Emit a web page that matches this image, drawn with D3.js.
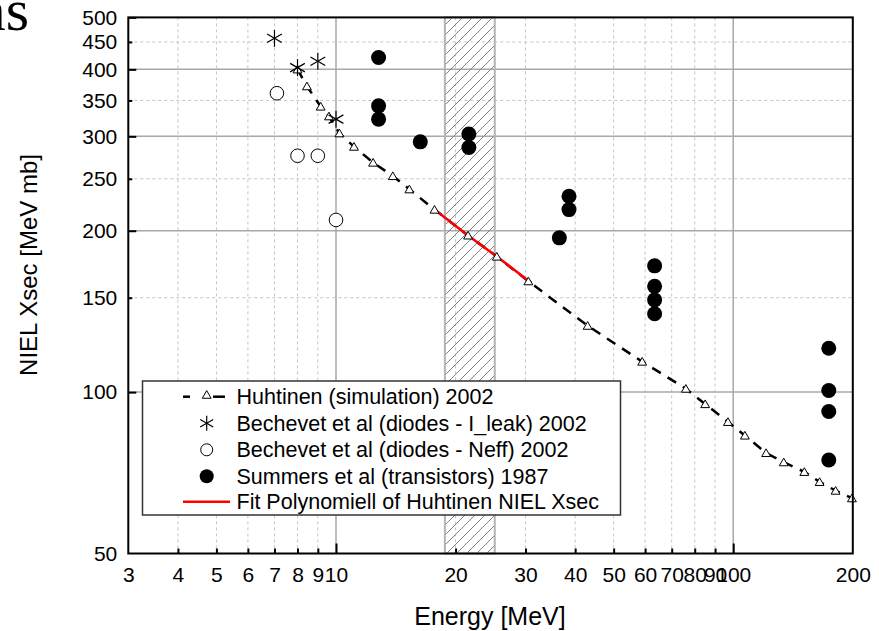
<!DOCTYPE html>
<html>
<head>
<meta charset="utf-8">
<script src="https://cdn.jsdelivr.net/npm/d3@7"></script>
<style>
  html, body { margin: 0; padding: 0; background: #fff; }
  svg { display: block; }
  text { font-family: "Liberation Sans", Arial, sans-serif; fill: #000; }
</style>
</head>
<body>
<svg id="chart" width="879" height="631"></svg>
<script>
// ---------- data ----------
const xTicks = [3, 4, 5, 6, 7, 8, 9, 10, 20, 30, 40, 50, 60, 70, 80, 90, 100, 200];
const xMajor = [10, 100];
const yTicks = [50, 100, 150, 200, 250, 300, 350, 400, 450, 500];
const yMajor = [100, 200, 300, 400, 500];

const simE = [8, 8.45, 9.15, 9.6, 10.2, 11.1, 12.4, 13.9, 15.3, 17.7, 21.5, 25.4, 30.5, 43, 59, 76, 85, 97, 107, 121, 134, 151, 165, 181, 199];
const simV = [400, 372, 341, 327, 304, 287, 268, 253, 239, 219, 196, 179, 161, 133, 114, 101.5, 95, 88, 83, 77, 74, 71, 68, 65.5, 63.4];

const fitE = [17.7, 21.5, 25.4, 31];
const fitV = [219, 196, 179, 160];

const leakE = [7, 8, 9, 10];
const leakV = [457, 403, 414, 323];

const neffE = [7.1, 8, 9, 10];
const neffV = [361, 276, 276, 209.5];

const sumE = [12.8, 12.8, 12.8, 16.3, 21.6, 21.6, 36.5, 38.6, 38.6, 63.4, 63.4, 63.4, 63.4, 174, 174, 174, 174];
const sumV = [421, 342, 323, 293, 303, 286, 194, 232, 219, 172, 157.5, 148.6, 140, 120.7, 100.7, 92, 74.7];

const bandE = [18.8, 25.1];

const legendLabels = [
  "Huhtinen (simulation) 2002",
  "Bechevet et al (diodes - I_leak) 2002",
  "Bechevet et al (diodes - Neff) 2002",
  "Summers et al (transistors) 1987",
  "Fit Polynomiell of Huhtinen NIEL Xsec"
];

// ---------- layout ----------
const L = 128.3, R = 852.8, T = 17.4, B = 553.5;
const svg = d3.select("#chart");

const x = d3.scaleLog().domain([3, 200]).range([L, R]);
const y = d3.scaleLog().domain([50, 500]).range([B, T]);

// cropped fragment of a title at top-left
svg.append("text").attr("x", 29).attr("y", 30)
  .attr("text-anchor", "end")
  .style("font-family", "'Liberation Serif', 'Times New Roman', serif")
  .style("font-size", "60px").text("ns");

// hatch pattern
const defs = svg.append("defs");
const pat = defs.append("pattern").attr("id", "hatch")
  .attr("patternUnits", "userSpaceOnUse").attr("width", 10).attr("height", 10);
pat.append("path").attr("d", "M0,10 L10,0 M-2,2 L2,-2 M8,12 L12,8")
  .attr("stroke", "#808080").attr("stroke-width", 1);

const plot = svg.append("g");

// gridlines
const minorX = xTicks.filter(d => !xMajor.includes(d) && d !== 3 && d !== 200);
const minorY = yTicks.filter(d => !yMajor.includes(d) && d !== 50);
plot.selectAll(".gxm").data(minorX).join("line")
  .attr("x1", d => x(d)).attr("x2", d => x(d)).attr("y1", T).attr("y2", B)
  .attr("stroke", "#c4c4c4").attr("stroke-width", 1).attr("stroke-dasharray", "3,3");
plot.selectAll(".gym").data(minorY).join("line")
  .attr("x1", L).attr("x2", R).attr("y1", d => y(d)).attr("y2", d => y(d))
  .attr("stroke", "#c4c4c4").attr("stroke-width", 1).attr("stroke-dasharray", "3,3");
plot.selectAll(".gxM").data(xMajor).join("line")
  .attr("x1", d => x(d)).attr("x2", d => x(d)).attr("y1", T).attr("y2", B)
  .attr("stroke", "#a8a8a8").attr("stroke-width", 1.5);
plot.selectAll(".gyM").data(yMajor.filter(d => d !== 500)).join("line")
  .attr("x1", L).attr("x2", R).attr("y1", d => y(d)).attr("y2", d => y(d))
  .attr("stroke", "#a8a8a8").attr("stroke-width", 1.5);

// hatched band
plot.append("rect")
  .attr("x", x(bandE[0])).attr("y", T)
  .attr("width", x(bandE[1]) - x(bandE[0])).attr("height", B - T)
  .attr("fill", "url(#hatch)").attr("stroke", "#b4b4b4").attr("stroke-width", 2);

// simulation dashed line
const lineGen = d3.line().x(d => x(d[0])).y(d => y(d[1]));
const sim = simE.map((e, i) => [e, simV[i]]);
plot.append("path").attr("d", lineGen(sim))
  .attr("fill", "none").attr("stroke", "#000").attr("stroke-width", 2.5)
  .attr("stroke-dasharray", "10,8");

// fit line
const fit = fitE.map((e, i) => [e, fitV[i]]);
plot.append("path").attr("d", lineGen(fit))
  .attr("fill", "none").attr("stroke", "#ff0000").attr("stroke-width", 2.5);

// triangles
const tri = d3.symbol().type(d3.symbolTriangle).size(34);
plot.selectAll(".tri").data(sim).join("path")
  .attr("transform", d => `translate(${x(d[0])},${y(d[1]) + 1})`)
  .attr("d", tri()).attr("fill", "#fff").attr("stroke", "#000").attr("stroke-width", 1);

// asterisk symbol
function star(g, cx, cy, r) {
  const angles = [90, 30, -30];
  angles.forEach(a => {
    const rad = a * Math.PI / 180;
    g.append("line")
      .attr("x1", cx - r * Math.cos(rad)).attr("y1", cy - r * Math.sin(rad))
      .attr("x2", cx + r * Math.cos(rad)).attr("y2", cy + r * Math.sin(rad))
      .attr("stroke", "#000").attr("stroke-width", 1.2);
  });
}
leakE.forEach((e, i) => star(plot, x(e), y(leakV[i]), 8.5));

// open circles
plot.selectAll(".neff").data(neffE.map((e, i) => [e, neffV[i]])).join("circle")
  .attr("cx", d => x(d[0])).attr("cy", d => y(d[1])).attr("r", 6.8)
  .attr("fill", "#fff").attr("stroke", "#000").attr("stroke-width", 1);

// filled circles
plot.selectAll(".sum").data(sumE.map((e, i) => [e, sumV[i]])).join("circle")
  .attr("cx", d => x(d[0])).attr("cy", d => y(d[1])).attr("r", 7.5)
  .attr("fill", "#000");

// ---------- axes ----------
const xAxis = d3.axisBottom(x).tickValues(xTicks).tickFormat(d3.format("d"))
  .tickSizeInner(-5).tickSizeOuter(0).tickPadding(14);
const gx = svg.append("g").attr("transform", `translate(0,${B})`).call(xAxis);
gx.select(".domain").remove();
gx.selectAll(".tick line").attr("y2", d => xMajor.includes(d) ? -10 : (d === 3 || d === 200 ? 0 : -5))
  .attr("stroke", "#000").attr("stroke-width", 2);
gx.selectAll(".tick text").style("font-size", "21px").attr("fill", "#000");

const yAxis = d3.axisLeft(y).tickValues(yTicks).tickFormat(d3.format("d"))
  .tickSizeInner(-8).tickSizeOuter(0).tickPadding(11);
const gy = svg.append("g").attr("transform", `translate(${L},0)`).call(yAxis);
gy.select(".domain").remove();
gy.selectAll(".tick line").attr("x2", d => yMajor.includes(d) ? 8 : (d === 50 ? 0 : 4))
  .attr("stroke", "#000").attr("stroke-width", 2);
gy.selectAll(".tick text").style("font-size", "21px").attr("fill", "#000");

// frame
svg.append("rect").attr("x", L).attr("y", T).attr("width", R - L).attr("height", B - T)
  .attr("fill", "none").attr("stroke", "#000").attr("stroke-width", 2);

// axis titles
svg.append("text").attr("x", 490).attr("y", 625)
  .attr("text-anchor", "middle").style("font-size", "25px").text("Energy [MeV]");
svg.append("text").attr("transform", `translate(37,265) rotate(-90)`)
  .attr("text-anchor", "middle").style("font-size", "24px").text("NIEL Xsec [MeV mb]");

// ---------- legend ----------
const lg = svg.append("g");
lg.append("rect").attr("x", 142.5).attr("y", 381).attr("width", 478).attr("height", 134)
  .attr("fill", "#fff").attr("stroke", "#333").attr("stroke-width", 1.5);
const rowY = [396.7, 423.2, 449.8, 476.3, 501.7];
const symX = 206.7;
legendLabels.forEach((lab, i) => {
  lg.append("text").attr("x", 236.5).attr("y", rowY[i] + 7.5)
    .style("font-size", "21.5px").text(lab);
});
// row 0: dashed line with triangle
lg.append("line").attr("x1", 183).attr("x2", 190).attr("y1", rowY[0]).attr("y2", rowY[0])
  .attr("stroke", "#000").attr("stroke-width", 2.5);
lg.append("line").attr("x1", 213).attr("x2", 225).attr("y1", rowY[0]).attr("y2", rowY[0])
  .attr("stroke", "#000").attr("stroke-width", 2.5);
lg.append("path").attr("transform", `translate(${symX},${rowY[0] - 1})`)
  .attr("d", tri()).attr("fill", "#fff").attr("stroke", "#000").attr("stroke-width", 1);
// row 1: star
star(lg, symX, rowY[1], 7.5);
// row 2: open circle
lg.append("circle").attr("cx", symX).attr("cy", rowY[2]).attr("r", 6)
  .attr("fill", "#fff").attr("stroke", "#000").attr("stroke-width", 1);
// row 3: filled circle
lg.append("circle").attr("cx", symX).attr("cy", rowY[3]).attr("r", 7)
  .attr("fill", "#000");
// row 4: red line
lg.append("line").attr("x1", 183).attr("x2", 230).attr("y1", rowY[4]).attr("y2", rowY[4])
  .attr("stroke", "#ff0000").attr("stroke-width", 2.5);
</script>
</body>
</html>
